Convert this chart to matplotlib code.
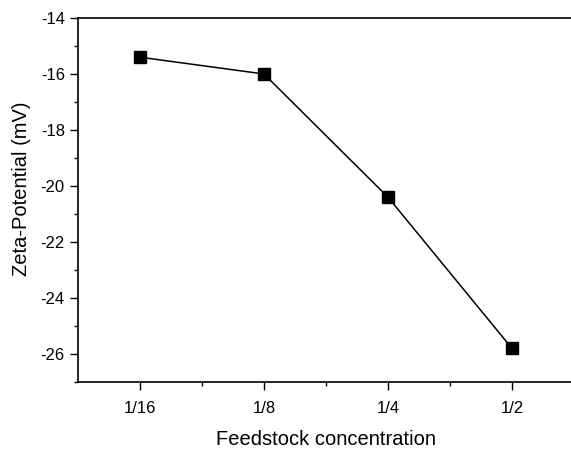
import numpy as np
import matplotlib.pyplot as plt

plt.rcParams["font.family"] = ["Liberation Sans", "DejaVu Sans"]
plt.rcParams["axes.unicode_minus"] = False

# ========================================
# data
# ========================================
concentration = ["1/16", "1/8", "1/4", "1/2"]
zeta = [-15.4, -16.0, -20.4, -25.8]

x = np.arange(len(concentration))

fig = plt.figure(figsize=(5.71, 4.53), dpi=100)
# right side of the frame runs past the edge of the picture
ax = fig.add_axes([78 / 571, 71 / 453, 496 / 571, 364 / 453])

ax.plot(x, zeta, color="black", linewidth=1.1, marker="s", markersize=8,
        markerfacecolor="black", markeredgecolor="black")

ax.set_xlim(-0.5, 3.5)
ax.set_ylim(-27, -14)
ax.set_xticks(x)
ax.set_xticklabels(concentration)
ax.set_xticks(x[:-1] + 0.5, minor=True)
ax.set_yticks(np.arange(-26, -13, 2))
ax.yaxis.set_minor_locator(plt.MultipleLocator(1))

ax.tick_params(axis="both", which="major", direction="out", length=6, width=1,
               labelsize=12)
ax.tick_params(axis="both", which="minor", direction="out", length=3, width=1)
ax.tick_params(axis="x", pad=8)
ax.tick_params(top=False, right=False)

ax.set_xlabel("Feedstock concentration", fontsize=14.5, labelpad=10)
ax.set_ylabel("Zeta-Potential (mV)", fontsize=14.5)
ax.yaxis.set_label_coords(-0.094, 0.53)

for s in ax.spines.values():
    s.set_linewidth(1.2)

plt.savefig("out.png", dpi=100)
